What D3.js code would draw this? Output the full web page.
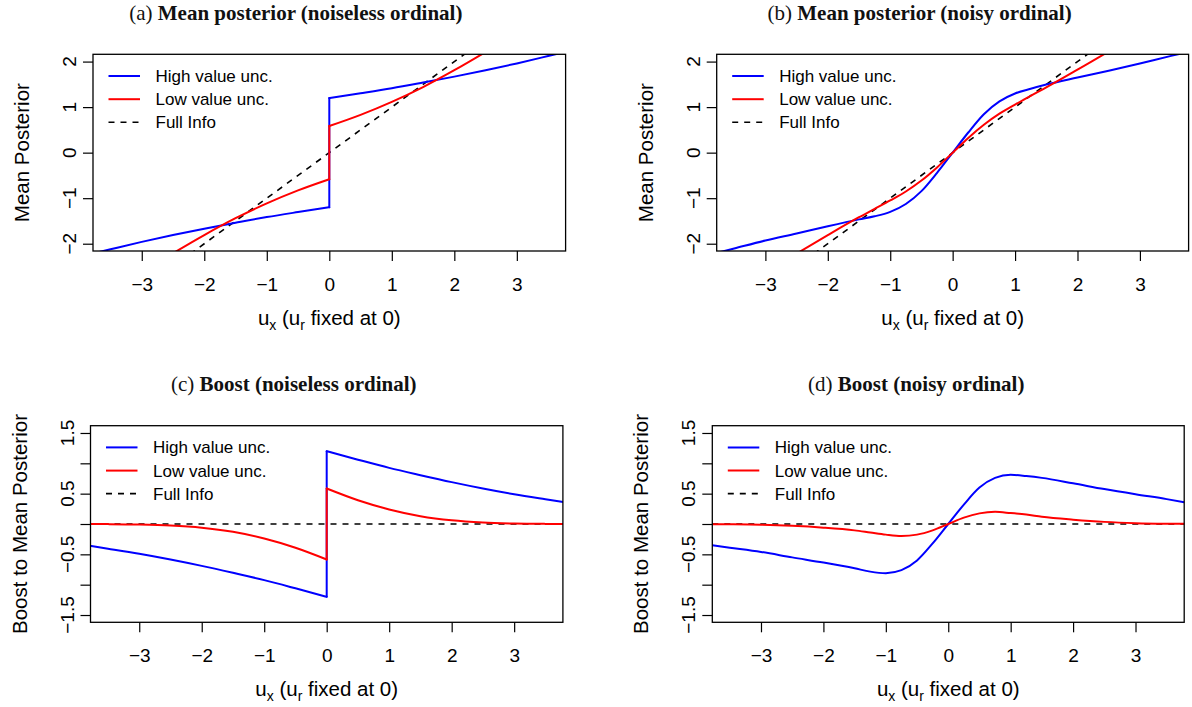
<!DOCTYPE html>
<html><head><meta charset="utf-8">
<script src="https://cdn.jsdelivr.net/npm/d3@7"></script>
<style>body{margin:0;background:#fff} svg{display:block}</style>
</head><body>
<svg id="chart" width="1192" height="707"></svg>
<script>
// ---------------- DATA ----------------
const xTicks = [-3, -2, -1, 0, 1, 2, 3];
const xTickLabels = ["\u22123", "\u22122", "\u22121", "0", "1", "2", "3"];
const postTicks = [-2, -1, 0, 1, 2];
const postTickLabels = ["\u22122", "\u22121", "0", "1", "2"];
const boostTicks = [-1.5, -1, -0.5, 0, 0.5, 1, 1.5];
const boostTickLabels = ["\u22121.5", "", "\u22120.5", "", "0.5", "", "1.5"];
const legendLabels = ["High value unc.", "Low value unc.", "Full Info"];

// noiseless ordinal: two branches, jump at u_x = 0
const xNeg = [-3.78, -3.5, -3, -2.5, -2, -1.5, -1, -0.5, 0];
const xPos = [0, 0.5, 1, 1.5, 2, 2.5, 3, 3.5, 3.78];
// (a) mean posterior, noiseless
const postBlueNegA = [-2.214, -2.122, -1.96, -1.81, -1.67, -1.54, -1.415, -1.305, -1.20];
const postBluePosA = [1.20, 1.305, 1.415, 1.54, 1.67, 1.81, 1.96, 2.122, 2.214];
const postRedNegA  = [-3.31, -3.065, -2.63, -2.21, -1.81, -1.44, -1.115, -0.83, -0.585];
const postRedPosA  = [0.585, 0.83, 1.115, 1.44, 1.81, 2.21, 2.63, 3.065, 3.31];
// (c) boost, noiseless
const boostBlueNegC = [-0.362, -0.407, -0.49, -0.585, -0.69, -0.805, -0.925, -1.06, -1.20];
const boostBluePosC = [1.20, 1.06, 0.925, 0.805, 0.69, 0.585, 0.49, 0.407, 0.362];
const boostRedNegC  = [-0.001, -0.002, -0.0076, -0.0235, -0.06, -0.129, -0.24, -0.392, -0.585];
const boostRedPosC  = [0.585, 0.392, 0.24, 0.129, 0.06, 0.0235, 0.0076, 0.002, 0.001];

// noisy ordinal: one smooth curve
const xNoisy = [-3.78, -3.5, -3, -2.5, -2, -1.5, -1.25, -1, -0.75, -0.5, -0.25, 0,
                0.25, 0.5, 0.75, 1, 1.25, 1.5, 2, 2.5, 3, 3.5, 3.78];
// (b) mean posterior, noisy
const postBlueB = [-2.203, -2.105, -1.93, -1.775, -1.615, -1.465, -1.3975, -1.30, -1.1275, -0.845, -0.4425, 0,
                   0.4425, 0.845, 1.1275, 1.30, 1.4025, 1.495, 1.65, 1.80, 1.96, 2.125, 2.212];
const postRedB  = [-3.311, -3.0675, -2.637, -2.2175, -1.81, -1.4175, -1.234, -1.05, -0.853, -0.6125, -0.324, 0,
                   0.324, 0.6125, 0.856, 1.055, 1.249, 1.4325, 1.822, 2.2225, 2.639, 3.068, 3.311];
// (d) boost, noisy
const boostBlueD = [-0.351, -0.39, -0.46, -0.55, -0.635, -0.73, -0.785, -0.81, -0.76, -0.60, -0.32, 0,
                    0.32, 0.60, 0.76, 0.81, 0.79, 0.76, 0.67, 0.575, 0.49, 0.41, 0.36];
const boostRedD  = [-0.003, -0.005, -0.012, -0.03, -0.06, -0.105, -0.14, -0.175, -0.197, -0.175, -0.105, 0,
                    0.105, 0.175, 0.2, 0.18, 0.155, 0.12, 0.072, 0.035, 0.014, 0.005, 0.003];

// full information reference
const fullX = [-3.78, 3.78];
const fullPost = [-3.78, 3.78];
const fullBoost = [0, 0];

// ---------------- LAYOUT ----------------
const W = 1192, H = 707;
const xDomain = [-3.78, 3.78];
const colors = {blue: "#0000ff", red: "#ff0000", full: "#000000"};
const sans = "'Liberation Sans', Arial, Helvetica, sans-serif";
const serif = "'Liberation Serif', 'Times New Roman', serif";
const tickFont = 19, legendFont = 17, labFont = 20.5;

const panels = [
  {key: "a", tag: "(a) ", title: "Mean posterior (noiseless ordinal)",
   box: [93, 54.3, 565.6, 251], yDom: [-2.16, 2.16], titleX: 295.8, titleY: 20,
   yTicks: postTicks, yLabels: postTickLabels, ylab: "Mean Posterior", jump: true,
   blue: [postBlueNegA, postBluePosA], red: [postRedNegA, postRedPosA], full: fullPost},
  {key: "b", tag: "(b) ", title: "Mean posterior (noisy ordinal)",
   box: [716.7, 54.3, 1188.6, 251], yDom: [-2.16, 2.16], titleX: 919.6, titleY: 20,
   yTicks: postTicks, yLabels: postTickLabels, ylab: "Mean Posterior", jump: false,
   blue: postBlueB, red: postRedB, full: fullPost},
  {key: "c", tag: "(c) ", title: "Boost (noiseless ordinal)",
   box: [90.5, 425.7, 562.9, 622.3], yDom: [-1.62, 1.62], titleX: 293.7, titleY: 391.4,
   yTicks: boostTicks, yLabels: boostTickLabels, ylab: "Boost to Mean Posterior", jump: true,
   blue: [boostBlueNegC, boostBluePosC], red: [boostRedNegC, boostRedPosC], full: fullBoost},
  {key: "d", tag: "(d) ", title: "Boost (noisy ordinal)",
   box: [712.3, 425.7, 1184.2, 622.3], yDom: [-1.62, 1.62], titleX: 916.2, titleY: 391.4,
   yTicks: boostTicks, yLabels: boostTickLabels, ylab: "Boost to Mean Posterior", jump: false,
   blue: boostBlueD, red: boostRedD, full: fullBoost}
];

const svg = d3.select("#chart");
svg.append("rect").attr("width", W).attr("height", H).attr("fill", "#fff");
const defs = svg.append("defs");

function drawPanel(p) {
  const [bx0, by0, bx1, by1] = p.box;
  const x = d3.scaleLinear().domain(xDomain).range([bx0, bx1]);
  const y = d3.scaleLinear().domain(p.yDom).range([by1, by0]);
  const g = svg.append("g").attr("class", "panel-" + p.key);

  defs.append("clipPath").attr("id", "clip-" + p.key)
    .append("rect").attr("x", bx0).attr("y", by0).attr("width", bx1 - bx0).attr("height", by1 - by0);
  const plot = g.append("g").attr("clip-path", `url(#clip-${p.key})`);

  const lineSmooth = d3.line().x(d => x(d[0])).y(d => y(d[1])).curve(d3.curveMonotoneX);
  const lineStraight = d3.line().x(d => x(d[0])).y(d => y(d[1]));

  // full info (dashed)
  plot.append("path").attr("d", lineStraight(d3.zip(fullX, p.full)))
    .attr("fill", "none").attr("stroke", colors.full).attr("stroke-width", 1.6)
    .attr("stroke-dasharray", "6,6");

  function drawSeries(vals, color) {
    const pieces = [];
    if (p.jump) {
      const [neg, pos] = vals;
      pieces.push(lineSmooth(d3.zip(xNeg, neg)));
      pieces.push(lineStraight([[0, neg[neg.length - 1]], [0, pos[0]]]));
      pieces.push(lineSmooth(d3.zip(xPos, pos)));
    } else {
      pieces.push(lineSmooth(d3.zip(xNoisy, vals)));
    }
    pieces.forEach(dp => plot.append("path").attr("d", dp).attr("fill", "none")
      .attr("stroke", color).attr("stroke-width", 2)
      .attr("stroke-linecap", "round").attr("stroke-linejoin", "round"));
  }
  drawSeries(p.blue, colors.blue);
  drawSeries(p.red, colors.red);

  // box
  g.append("rect").attr("x", bx0).attr("y", by0).attr("width", bx1 - bx0).attr("height", by1 - by0)
    .attr("fill", "none").attr("stroke", "#000").attr("stroke-width", 1.3);

  // x axis
  const xa = g.append("g").attr("transform", `translate(0,${by1})`)
    .call(d3.axisBottom(x).tickValues(xTicks).tickSize(10).tickPadding(16.2)
      .tickFormat((d, i) => xTickLabels[i]));
  xa.select(".domain").remove();
  xa.selectAll("line").attr("stroke", "#000").attr("stroke-width", 1.2);
  xa.selectAll("text").attr("font-family", sans).attr("font-size", tickFont).attr("fill", "#000");

  // y axis
  const ya = g.append("g").attr("transform", `translate(${bx0},0)`)
    .call(d3.axisLeft(y).tickValues(p.yTicks).tickSize(10).tickFormat(""));
  ya.select(".domain").remove();
  ya.selectAll("line").attr("stroke", "#000").attr("stroke-width", 1.2);
  g.selectAll("text.ylab").data(p.yTicks.map((t, i) => [t, p.yLabels[i]]).filter(d => d[1] !== ""))
    .join("text").attr("class", "ylab")
    .attr("transform", d => `translate(${bx0 - 17},${y(d[0])}) rotate(-90)`)
    .attr("text-anchor", "middle").attr("font-family", sans).attr("font-size", tickFont)
    .attr("fill", "#000").text(d => d[1]);

  // axis titles
  const xt = g.append("text").attr("x", (bx0 + bx1) / 2).attr("y", by1 + 74)
    .attr("text-anchor", "middle").attr("font-family", sans).attr("font-size", labFont).attr("fill", "#000");
  xt.append("tspan").text("u");
  xt.append("tspan").attr("font-size", 14).attr("dy", 5).text("x");
  xt.append("tspan").attr("dy", -5).text(" (u");
  xt.append("tspan").attr("font-size", 14).attr("dy", 5).text("r");
  xt.append("tspan").attr("dy", -5).text(" fixed at 0)");

  g.append("text").attr("transform", `translate(${bx0 - 64},${(by0 + by1) / 2}) rotate(-90)`)
    .attr("text-anchor", "middle").attr("font-family", sans).attr("font-size", labFont)
    .attr("fill", "#000").text(p.ylab);

  // panel title
  const tt = g.append("text").attr("x", p.titleX).attr("y", p.titleY)
    .attr("text-anchor", "middle").attr("font-family", serif).attr("font-size", 21).attr("fill", "#111");
  tt.append("tspan").text(p.tag);
  tt.append("tspan").attr("font-weight", "bold").text(p.title);

  // legend
  const rows = [
    {label: legendLabels[0], color: colors.blue, dash: null, w: 2},
    {label: legendLabels[1], color: colors.red, dash: null, w: 2},
    {label: legendLabels[2], color: colors.full, dash: "6,6", w: 1.6}
  ];
  const rowY = [21.7, 44.9, 67.9];
  const lg = g.append("g");
  rows.forEach((r, i) => {
    const yy = by0 + rowY[i];
    lg.append("line").attr("x1", bx0 + 15.5).attr("x2", bx0 + 47).attr("y1", yy).attr("y2", yy)
      .attr("stroke", r.color).attr("stroke-width", r.w).attr("stroke-dasharray", r.dash);
    lg.append("text").attr("x", bx0 + 62.5).attr("y", yy + 6).attr("font-family", sans)
      .attr("font-size", legendFont).attr("fill", "#000").text(r.label);
  });
}

panels.forEach(drawPanel);
</script>
</body></html>
